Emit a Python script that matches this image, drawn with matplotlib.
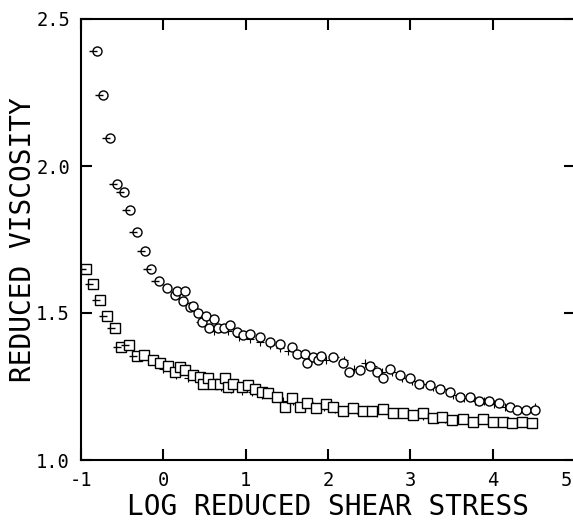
import matplotlib
matplotlib.use("Agg")
import matplotlib.pyplot as plt
import matplotlib.transforms as mtransforms

# upper band (circles)
circ_x = [-0.81, -0.73, -0.65, -0.56, -0.48, -0.40, -0.32, -0.22, -0.15, -0.05,
          0.04, 0.14, 0.17, 0.26, 0.24, 0.32, 0.36, 0.42, 0.47, 0.52, 0.55, 0.61,
          0.67, 0.74, 0.81, 0.89, 0.97, 1.05, 1.17, 1.30, 1.42, 1.56, 1.62, 1.72,
          1.74, 1.82, 1.88, 1.92, 2.06, 2.18, 2.26, 2.39, 2.51, 2.59, 2.67, 2.75,
          2.87, 2.99, 3.11, 3.24, 3.36, 3.48, 3.60, 3.72, 3.84, 3.96, 4.08, 4.21,
          4.30, 4.41, 4.51]
circ_y = [2.39, 2.24, 2.095, 1.94, 1.91, 1.85, 1.775, 1.71, 1.65, 1.61,
          1.585, 1.56, 1.575, 1.575, 1.54, 1.52, 1.525, 1.50, 1.47, 1.49, 1.45, 1.48,
          1.45, 1.45, 1.46, 1.435, 1.425, 1.43, 1.42, 1.40, 1.395, 1.385, 1.36, 1.36,
          1.33, 1.35, 1.34, 1.355, 1.35, 1.33, 1.30, 1.305, 1.32, 1.30, 1.28, 1.31,
          1.29, 1.28, 1.26, 1.255, 1.24, 1.23, 1.215, 1.215, 1.20, 1.20, 1.195, 1.18,
          1.17, 1.17, 1.17]

# lower band (squares)
sq_x = [-0.94, -0.86, -0.77, -0.68, -0.59, -0.52, -0.42, -0.32, -0.23, -0.13,
        -0.04, 0.06, 0.14, 0.20, 0.26, 0.36, 0.44, 0.48, 0.54, 0.60, 0.69, 0.75,
        0.78, 0.85, 0.95, 1.03, 1.11, 1.20, 1.27, 1.38, 1.48, 1.56, 1.66, 1.75,
        1.86, 1.98, 2.06, 2.18, 2.30, 2.42, 2.54, 2.67, 2.79, 2.91, 3.03, 3.15,
        3.27, 3.39, 3.51, 3.64, 3.76, 3.88, 4.00, 4.12, 4.24, 4.36, 4.48]
sq_y = [1.65, 1.60, 1.545, 1.49, 1.45, 1.385, 1.39, 1.355, 1.357, 1.34,
        1.33, 1.32, 1.30, 1.317, 1.306, 1.29, 1.283, 1.26, 1.28, 1.26, 1.26, 1.28,
        1.25, 1.26, 1.25, 1.255, 1.24, 1.23, 1.228, 1.215, 1.18, 1.21, 1.18, 1.195,
        1.177, 1.19, 1.18, 1.165, 1.177, 1.165, 1.165, 1.173, 1.16, 1.16, 1.153, 1.16,
        1.143, 1.146, 1.136, 1.14, 1.13, 1.14, 1.13, 1.13, 1.125, 1.13, 1.127]

# crosses mixed into both bands
plus_up_x = [0.45, 0.62, 0.78, 0.92, 1.05, 1.18, 1.30, 1.42, 1.52, 1.62, 1.72, 1.85,
             1.97, 2.08, 2.20, 2.32, 2.45, 2.55, 2.65, 2.78, 2.90, 3.02, 3.15, 3.28,
             3.40, 3.52, 3.65, 3.78, 3.90, 4.02, 4.15, 4.28, 4.40, 4.52]
plus_up_y = [1.47, 1.44, 1.44, 1.42, 1.41, 1.40, 1.39, 1.38, 1.37, 1.36, 1.35, 1.34,
             1.34, 1.35, 1.34, 1.31, 1.33, 1.32, 1.30, 1.30, 1.28, 1.27, 1.26, 1.25,
             1.24, 1.22, 1.21, 1.20, 1.20, 1.19, 1.18, 1.175, 1.17, 1.18]
plus_lo_x = [0.00, 0.15, 0.30, 0.45, 0.58, 0.70, 0.82, 0.95, 1.08, 1.20, 1.32, 1.45,
             1.58, 1.70, 1.82, 1.95, 2.08, 2.20, 2.35, 2.48, 2.60, 2.75, 2.88, 3.00,
             3.15, 3.28, 3.42, 3.55, 3.68, 3.82, 3.95, 4.10, 4.25]
plus_lo_y = [1.31, 1.29, 1.28, 1.27, 1.255, 1.25, 1.24, 1.235, 1.23, 1.22, 1.21, 1.20,
             1.20, 1.19, 1.185, 1.18, 1.175, 1.17, 1.17, 1.165, 1.16, 1.155, 1.155, 1.15,
             1.15, 1.145, 1.14, 1.14, 1.135, 1.135, 1.13, 1.13, 1.13]

xticks = [-1, 0, 1, 2, 3, 4, 5]
yticks = [1.0, 1.5, 2.0, 2.5]
ytick_labels = ["1.0", "1.5", "2.0", "2.5"]

font = "DejaVu Sans Mono"

fig = plt.figure(figsize=(5.73, 5.24), dpi=100)
ax = fig.add_axes([81 / 573, 64 / 524, 494 / 573, 441 / 524])

ax.plot(plus_up_x, plus_up_y, "+", color="black", ms=6, mew=0.8)
ax.plot(plus_lo_x, plus_lo_y, "+", color="black", ms=6, mew=0.8)
ax.plot(circ_x, circ_y, "o", mfc="white", mec="black", ms=6.5, mew=1.0)
ax.plot(sq_x, sq_y, "s", mfc="white", mec="black", ms=6.5, mew=1.0)
# little left ticks on the first points
ax.plot(circ_x[:10], circ_y[:10], marker=0, ls="none", color="black", ms=6, mew=1.0)
ax.plot(sq_x[:8], sq_y[:8], marker=0, ls="none", color="black", ms=6, mew=1.0)

ax.set_xlim(-1, 5)
ax.set_ylim(1.0, 2.5)
ax.set_xticks(xticks)
ax.set_xticklabels([str(t) for t in xticks])
ax.set_yticks(yticks)
ax.set_yticklabels(ytick_labels)
ax.tick_params(direction="in", length=8, width=1.5, top=True, right=True,
               labelsize=13.5, pad=8)
for lab in ax.get_xticklabels() + ax.get_yticklabels():
    lab.set_family(font)
last = ax.get_xticklabels()[-1]
last.set_ha("right")
last.set_transform(last.get_transform() +
                   mtransforms.ScaledTranslation(-3 / 100, 0, fig.dpi_scale_trans))
for s in ax.spines.values():
    s.set_linewidth(1.5)
ax.spines["right"].set_visible(False)

ax.set_xlabel("LOG REDUCED SHEAR STRESS", fontsize=20, family=font, labelpad=2)
ax.set_ylabel("REDUCED VISCOSITY", fontsize=20, family=font)
ax.yaxis.set_label_coords(-0.09, 0.5)

fig.savefig("out.png", dpi=100)
